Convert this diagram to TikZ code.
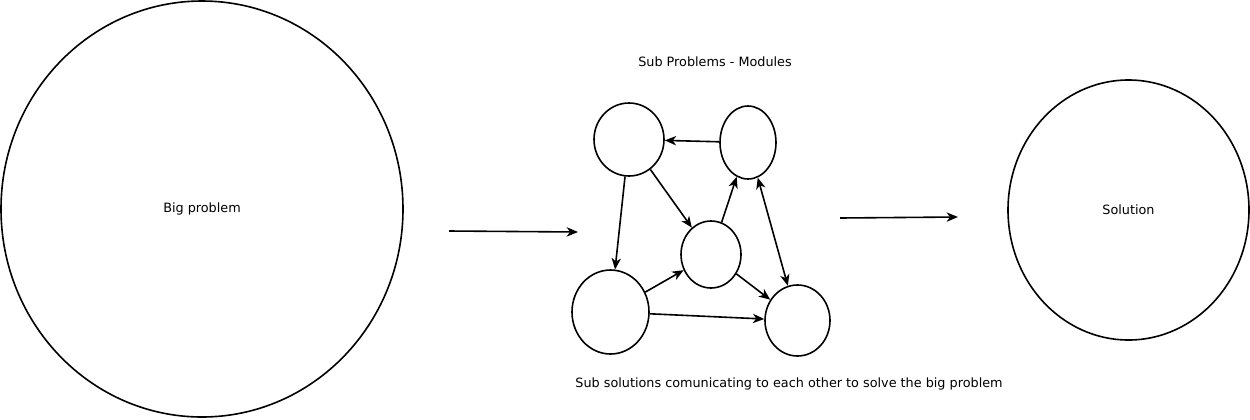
\documentclass[tikz,border=0pt]{standalone}
\usepackage{fontspec}
\setmainfont{DejaVu Sans}
\usetikzlibrary{shapes.geometric,arrows.meta}
\begin{document}
\begin{tikzpicture}[x=0.75pt,y=-0.75pt,
  oval/.style={draw,ellipse,line width=1.2pt,inner sep=0pt},
  lbl/.style={font=\fontsize{9.6}{11}\selectfont,inner sep=0pt},
  conn/.style={line width=1.2pt,-{Stealth[length=8.5pt,width=7pt,inset=2.5pt]}},
  biconn/.style={line width=1.2pt,{Stealth[length=8.5pt,width=7pt,inset=2.5pt]}-{Stealth[length=8.5pt,width=7pt,inset=2.5pt]}}]
\useasboundingbox (0,0) rectangle (1250,419);
% big ellipses
\node[oval,minimum width=402*0.75pt,minimum height=416*0.75pt] (big) at (202,209) {};
\node[lbl] (bigtxt) at (202,209) {Big problem};
\node[oval,minimum width=241*0.75pt,minimum height=260*0.75pt] (sol) at (1128.5,210) {};
\node[lbl] (soltxt) at (1128.5,210) {Solution};
% labels
\node[lbl] (top) at (715,62) {Sub Problems - Modules};
\node[lbl] (bottom) at (789,384) {Sub solutions comunicating to each other to solve the big problem};
% small ellipses
\node[oval,minimum width=70*0.75pt,minimum height=73*0.75pt] (A) at (629,139.5) {};
\node[oval,minimum width=56*0.75pt,minimum height=73*0.75pt] (B) at (748,142.5) {};
\node[oval,minimum width=60*0.75pt,minimum height=67*0.75pt] (C) at (711,254.5) {};
\node[oval,minimum width=77*0.75pt,minimum height=84*0.75pt] (D) at (610.5,312) {};
\node[oval,minimum width=65*0.75pt,minimum height=71*0.75pt] (E) at (797.5,320.5) {};
% free arrows
\coordinate (a1s) at (449,231);
\coordinate (a1e) at (578,232);
\coordinate (a2s) at (840,218);
\coordinate (a2e) at (958,217);
\draw[conn] (a1s) -- (a1e);
\draw[conn] (a2s) -- (a2e);
% graph edges
\draw[conn] (B) -- (A);
\draw[conn] (A) -- (D);
\draw[conn] (A) -- (C);
\draw[conn] (C) -- (B);
\draw[biconn] (B) -- (E);
\draw[conn] (C) -- (E);
\draw[conn] (D) -- (C);
\draw[conn] (D) -- (E);
\end{tikzpicture}
\end{document}
